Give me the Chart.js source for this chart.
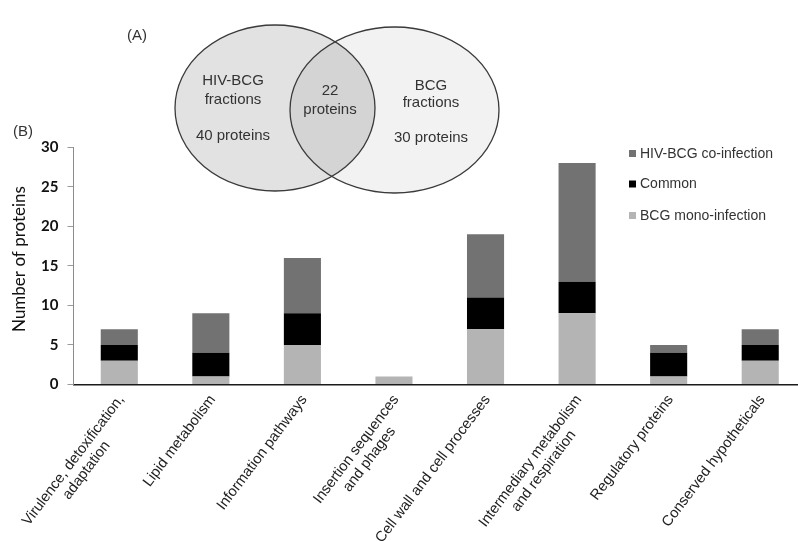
<!DOCTYPE html>
<html><head><meta charset="utf-8">
<script src="https://cdn.jsdelivr.net/npm/chart.js@4"></script>
<style>
html,body{margin:0;padding:0;overflow:hidden;background:#fff;width:798px;height:541px}
#wrap{position:absolute;left:0;top:0;width:806px;height:541px}
</style>
</head><body><div id="wrap"><canvas id="c" width="806" height="541"></canvas></div>
<script>
// ---- data ----
const categories = ["Virulence, detoxification, adaptation","Lipid metabolism","Information pathways","Insertion sequences and phages","Cell wall and cell processes","Intermediary metabolism and respiration","Regulatory proteins","Conserved hypotheticals"];
const tickLabels = [["Virulence, detoxification,","adaptation"],["Lipid metabolism"],["Information pathways"],["Insertion sequences","and phages"],["Cell wall and cell processes"],["Intermediary metabolism","and respiration"],["Regulatory proteins"],["Conserved hypotheticals"]];
const bcgMono = [3,1,5,1,7,9,1,3];
const common  = [2,3,4,0,4,4,3,2];
const hivBcg  = [2,5,7,0,8,15,1,2];
const seriesNames = ["BCG mono-infection","Common","HIV-BCG co-infection"];
const yTicks = [0,5,10,15,20,25,30];
const yTitle = "Number of proteins";
const vennHivOnly = 40, vennShared = 22, vennBcgOnly = 30;

const TXT = '#333333';
const labelFont = '"Liberation Sans", Arial, sans-serif';

const xLabelPlugin = {
  id:'xlabels',
  afterDraw(chart){
    const ctx = chart.ctx, xs = chart.scales.x, ys = chart.scales.y;
    const ang = 53*Math.PI/180, lh = 16.5;
    ctx.save();
    ctx.font = '14.7px '+labelFont;
    ctx.fillStyle = '#222';
    tickLabels.forEach((lines,i)=>{
      const px = xs.getPixelForTick(i);
      const widths = lines.map(l=>ctx.measureText(l).width);
      const W = Math.max(...widths);
      ctx.save();
      ctx.translate(px-4, xs.top+8);
      ctx.rotate(-ang);
      ctx.textAlign='right'; ctx.textBaseline='top';
      lines.forEach((l,j)=>ctx.fillText(l, -(W-widths[j])/2, j*lh));
      ctx.restore();
    });
    // y axis title
    ctx.save();
    ctx.translate(20, 259);
    ctx.rotate(-Math.PI/2);
    ctx.font = '17px Lato';
    ctx.fillStyle = '#111';
    ctx.textAlign='center'; ctx.textBaseline='middle';
    ctx.fillText(yTitle,0,0);
    ctx.restore();
    ctx.restore();
  }
};

const overlayPlugin = {
  id:'overlay',
  afterDraw(chart){
    const ctx = chart.ctx;
    ctx.save();
    // Venn diagram (panel A)
    const L = {x:275, y:108, rx:100, ry:83}, R = {x:394.5, y:110, rx:104.5, ry:83};
    const ell = e=>{ctx.beginPath();ctx.ellipse(e.x,e.y,e.rx,e.ry,0,0,Math.PI*2);};
    ell(R); ctx.fillStyle='#f2f2f2'; ctx.fill();
    ell(L); ctx.fillStyle='#e2e2e2'; ctx.fill();
    ctx.save(); ell(L); ctx.clip(); ell(R); ctx.fillStyle='#d4d4d4'; ctx.fill(); ctx.restore();
    ctx.strokeStyle='#3a3a3a'; ctx.lineWidth=1.3;
    ell(L); ctx.stroke(); ell(R); ctx.stroke();
    ctx.fillStyle=TXT; ctx.font='15px '+labelFont; ctx.textAlign='center'; ctx.textBaseline='middle';
    ctx.fillText('HIV-BCG',233,81);
    ctx.fillText('fractions',233,100);
    ctx.fillText(vennHivOnly+' proteins',233,136);
    ctx.fillText(String(vennShared),330,91);
    ctx.fillText('proteins',330,110);
    ctx.fillText('BCG',431,86);
    ctx.fillText('fractions',431,103);
    ctx.fillText(vennBcgOnly+' proteins',431,138);
    ctx.fillText('(A)',137,36);
    ctx.fillText('(B)',23,132);
    // legend
    const ds = chart.data.datasets.slice().reverse();
    const rowY = [153.5,184,215.5];
    ctx.font='14px '+labelFont; ctx.textAlign='left';
    ds.forEach((d,i)=>{
      ctx.fillStyle=d.backgroundColor; ctx.fillRect(629,rowY[i]-3.5,7,7);
      ctx.fillStyle=TXT; ctx.fillText(d.label,640,rowY[i]+0.5);
    });
    ctx.restore();
  }
};

new Chart(document.getElementById('c'),{
  type:'bar',
  data:{
    labels:categories,
    datasets:[
      {label:seriesNames[0],data:bcgMono,backgroundColor:'#b4b4b4'},
      {label:seriesNames[1],data:common,backgroundColor:'#000000'},
      {label:seriesNames[2],data:hivBcg,backgroundColor:'#727272'}
    ]
  },
  options:{
    responsive:false,animation:false,devicePixelRatio:1,
    layout:{padding:{top:147.3,left:0,right:0,bottom:0}},
    datasets:{bar:{barPercentage:0.405,categoryPercentage:1,borderWidth:0}},
    plugins:{legend:{display:false},tooltip:{enabled:false}},
    scales:{
      x:{stacked:true,
        grid:{display:false},
        border:{color:'#1a1a1a',width:1.5},
        ticks:{display:false},
        afterFit(s){s.height=156.5;s.paddingLeft=0;s.paddingRight=0;}
      },
      y:{stacked:true,min:0,max:30,
        afterBuildTicks(s){s.ticks=yTicks.map(v=>({value:v}));},
        grid:{drawOnChartArea:false,drawTicks:true,tickLength:6,color:'#9a9a9a'},
        border:{color:'#8c8c8c',width:1},
        ticks:{font:{family:'Lato',size:15,weight:'bold'},color:'#111',padding:9},
        title:{display:false},
        afterFit(s){s.width=73.5;}
      }
    }
  },
  plugins:[xLabelPlugin,overlayPlugin]
});
</script>
</body></html>
